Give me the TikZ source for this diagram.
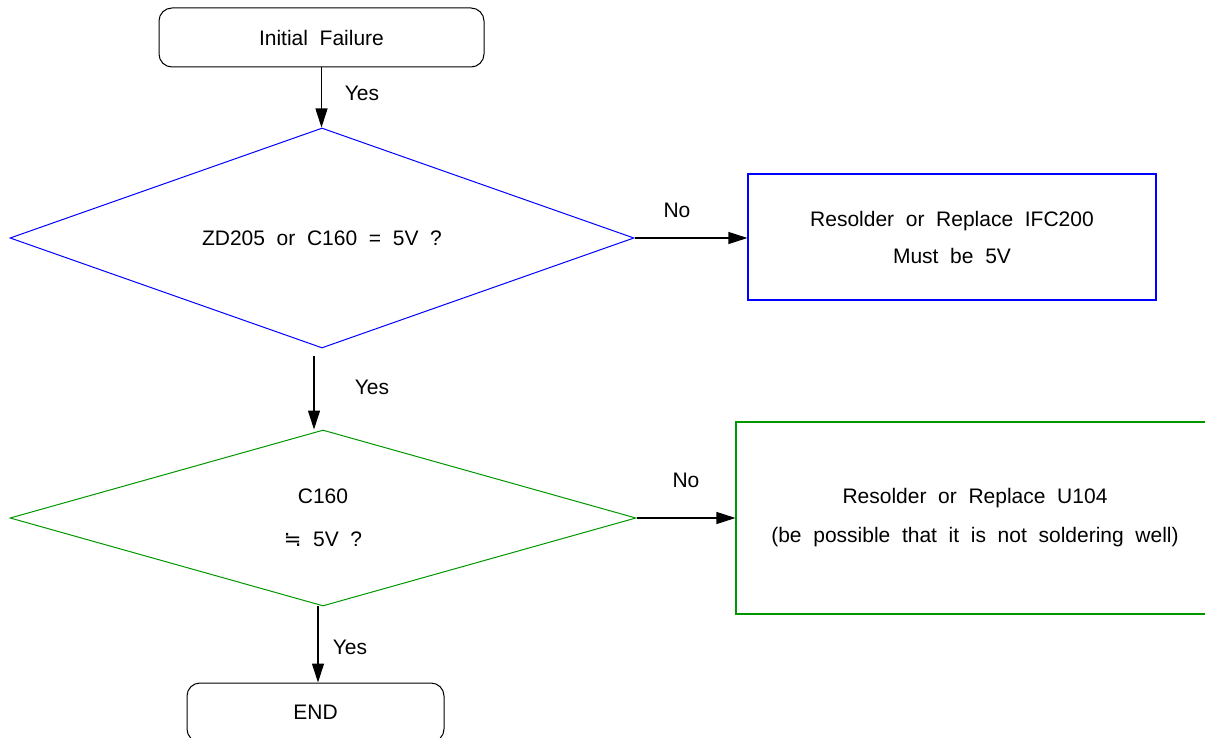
\documentclass[tikz,border=0pt]{standalone}
\usepackage{fontspec}
\setmainfont{Liberation Sans}[WordSpace=2]
\newfontfamily\symbfont{DejaVu Sans}
\usetikzlibrary{positioning,shapes.geometric,arrows.meta}
\definecolor{okgreen}{RGB}{0,150,0}

\begin{document}
\begin{tikzpicture}[x=0.5pt,y=-0.5pt,
    term/.style={draw,rounded corners=6.5pt,minimum width=162.5pt,minimum height=29.5pt,line width=0.5pt},
    test/.style={draw,diamond,inner sep=0pt,line width=0.5pt,align=center},
    fixbox/.style={draw,rectangle,line width=0.55pt,align=center},
    flow/.style={-{Triangle[length=9.5pt,width=6pt]},line width=0.55pt},
    font=\fontsize{10.5}{12.5}\selectfont]
\useasboundingbox (0,0) rectangle (1205,738);

\node[term] (start) at (321.5,37.5) {Initial Failure};
\node[test,draw=blue,aspect=2.84,minimum width=312pt,minimum height=110pt] (d1) at (322,238) {ZD205 or C160 = 5V ?};
\node[fixbox,draw=blue,minimum width=204pt,minimum height=63pt] (r1) at (952,237) {Resolder or Replace IFC200\\[6pt]Must be 5V};
\node[test,draw=okgreen,aspect=3.56,minimum width=313pt,minimum height=88pt] (d2) at (323,518) {C160\\[9pt]{\symbfont ≒} 5V ?};
\node[fixbox,draw=okgreen,minimum width=239pt,minimum height=96pt] (r2) at (975,518) {Resolder or Replace U104\\[7pt](be possible that it is not soldering well)};
\node[term,minimum width=128.5pt] (stop) at (315.5,712.5) {END};

% connectors
\draw[flow] (start.south) -- (start.south |- d1.north);
\draw[flow] (d1.east) -- (d1.east -| r1.west);
\coordinate (midtop) at (314,356);
\draw[flow] (midtop) -- (midtop |- d2.north);
\draw[flow] (d2.east) -- (d2.east -| r2.west);
\coordinate (lowtop) at (318,606);
\draw[flow] (lowtop) -- (lowtop |- stop.north);

% answers
\node (yes1) at (362,93) {Yes};
\node (no1) at (677,210) {No};
\node (yes2) at (372,387) {Yes};
\node (no2) at (686,480) {No};
\node (yes3) at (350,647) {Yes};
\end{tikzpicture}
\end{document}
